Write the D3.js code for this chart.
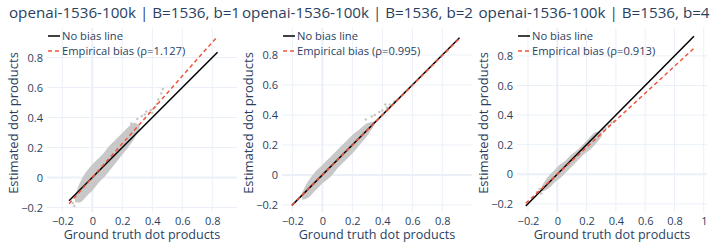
<!DOCTYPE html>
<html>
<head>
<meta charset="utf-8">
<script src="https://cdn.jsdelivr.net/npm/d3@7"></script>
<style>
  body { margin: 0; background: #fff; }
  svg { display: block; font-family: "Open Sans", verdana, arial, sans-serif; }
</style>
</head>
<body>
<svg id="chart" width="714" height="247"></svg>
<script>
  // titles and fitted bias per panel
  var titles = [
    "openai-1536-100k | B=1536, b=1",
    "openai-1536-100k | B=1536, b=2",
    "openai-1536-100k | B=1536, b=4"
  ];
  var rhoValues = [1.127, 0.995, 0.913];

  // tick labels
  var xTicks12 = [-0.2, 0, 0.2, 0.4, 0.6, 0.8];
  var xTicks3 = [-0.2, 0, 0.2, 0.4, 0.6, 0.8, 1];
  var yTicks = [-0.2, 0, 0.2, 0.4, 0.6, 0.8];

  // axis ranges
  var xRange1 = [-0.302, 0.965], yRange1 = [-0.230, 0.997];
  var xRange2 = [-0.269, 0.998], yRange2 = [-0.247, 0.980];
  var xRange3 = [-0.275, 1.022], yRange3 = [-0.255, 0.9885];

  // x extent of the reference lines (min/max ground truth)
  var lineSpan1 = [-0.155, 0.835];
  var lineSpan2 = [-0.203, 0.915];
  var lineSpan3 = [-0.215, 0.933];

  // dense scatter cloud, read as lower / upper envelope
  var cloud1X  = [-0.11, -0.08, -0.04, 0, 0.04, 0.08, 0.12, 0.16, 0.20, 0.24, 0.28, 0.31];
  var cloud1Lo = [-0.16, -0.16, -0.12, -0.08, -0.03, 0.01, 0.06, 0.11, 0.16, 0.21, 0.27, 0.33];
  var cloud1Hi = [-0.13, -0.04, 0.03, 0.08, 0.12, 0.16, 0.21, 0.25, 0.29, 0.33, 0.36, 0.34];
  var cloud2X  = [-0.13, -0.10, -0.05, 0, 0.05, 0.10, 0.15, 0.20, 0.25, 0.30, 0.34];
  var cloud2Lo = [-0.16, -0.15, -0.10, -0.05, -0.01, 0.05, 0.10, 0.15, 0.21, 0.27, 0.33];
  var cloud2Hi = [-0.12, -0.06, 0.01, 0.06, 0.11, 0.16, 0.21, 0.26, 0.30, 0.34, 0.35];
  var cloud3X  = [-0.10, -0.06, -0.02, 0.02, 0.06, 0.10, 0.14, 0.18, 0.22, 0.26, 0.30];
  var cloud3Lo = [-0.11, -0.09, -0.05, -0.02, 0.02, 0.06, 0.10, 0.14, 0.17, 0.21, 0.26];
  var cloud3Hi = [-0.08, -0.02, 0.02, 0.06, 0.09, 0.13, 0.16, 0.20, 0.24, 0.28, 0.28];

  // sparse points outside the dense cloud
  var sparse1X = [0.26, 0.30, 0.33, 0.35, 0.36, 0.38, 0.40, 0.39, 0.42, 0.43, 0.44, 0.46, 0.47, -0.13, -0.12];
  var sparse1Y = [0.36, 0.39, 0.41, 0.42, 0.44, 0.43, 0.43, 0.45, 0.47, 0.49, 0.52, 0.56, 0.59, -0.17, -0.19];
  var sparse2X = [0.29, 0.33, 0.35, 0.38, 0.40, 0.42, 0.43, 0.45, 0.48];
  var sparse2Y = [0.37, 0.39, 0.40, 0.42, 0.43, 0.47, 0.45, 0.47, 0.49];
  var sparse3X = [0.31, 0.33, 0.35, 0.37, 0.39, -0.12, -0.14, -0.11];
  var sparse3Y = [0.30, 0.31, 0.33, 0.35, 0.36, -0.10, -0.12, -0.13];

  var panels = [
    {title: titles[0], rho: rhoValues[0], xr: xRange1, yr: yRange1, xt: xTicks12, span: lineSpan1,
     cx: cloud1X, lo: cloud1Lo, hi: cloud1Hi, sx: sparse1X, sy: sparse1Y},
    {title: titles[1], rho: rhoValues[1], xr: xRange2, yr: yRange2, xt: xTicks12, span: lineSpan2,
     cx: cloud2X, lo: cloud2Lo, hi: cloud2Hi, sx: sparse2X, sy: sparse2Y},
    {title: titles[2], rho: rhoValues[2], xr: xRange3, yr: yRange3, xt: xTicks3, span: lineSpan3,
     cx: cloud3X, lo: cloud3Lo, hi: cloud3Hi, sx: sparse3X, sy: sparse3Y}
  ];

  var textColor = "#2a3f5f", gridColor = "#EBF0F8", redColor = "#EF553B", cloudColor = "#c8c8c8";
  var plotLefts = [47, 282, 517], plotTop = 28, plotW = 190, plotH = 184;
  // subplot titles sit on the centre of the unconstrained column, not the plot box
  var titleCenters = [124.5, 357.5, 594];

  var svg = d3.select("#chart");
  var fmt = function(d){ return d === 0 ? "0" : d3.format("~g")(d); };

  panels.forEach(function(p, i){
    var g = svg.append("g").attr("transform", "translate(" + plotLefts[i] + "," + plotTop + ")");
    var x = d3.scaleLinear().domain(p.xr).range([0, plotW]);
    var y = d3.scaleLinear().domain(p.yr).range([plotH, 0]);

    // grid
    g.append("g").selectAll("line").data(p.xt.filter(function(d){ return d !== 0; }))
      .enter().append("line")
      .attr("x1", function(d){ return x(d); }).attr("x2", function(d){ return x(d); })
      .attr("y1", 0).attr("y2", plotH)
      .attr("stroke", gridColor).attr("stroke-width", 1);
    g.append("g").selectAll("line").data(yTicks.filter(function(d){ return d !== 0; }))
      .enter().append("line")
      .attr("y1", function(d){ return y(d); }).attr("y2", function(d){ return y(d); })
      .attr("x1", 0).attr("x2", plotW)
      .attr("stroke", gridColor).attr("stroke-width", 1);
    // zero lines
    g.append("line").attr("x1", x(0)).attr("x2", x(0)).attr("y1", 0).attr("y2", plotH)
      .attr("stroke", gridColor).attr("stroke-width", 2);
    g.append("line").attr("y1", y(0)).attr("y2", y(0)).attr("x1", 0).attr("x2", plotW)
      .attr("stroke", gridColor).attr("stroke-width", 2);

    // axes (labels only)
    var xa = g.append("g").attr("transform", "translate(0," + plotH + ")")
      .call(d3.axisBottom(x).tickValues(p.xt).tickFormat(fmt).tickSize(0).tickPadding(5.5));
    var ya = g.append("g")
      .call(d3.axisLeft(y).tickValues(yTicks).tickFormat(fmt).tickSize(0).tickPadding(4));
    [xa, ya].forEach(function(a){
      a.select(".domain").remove();
      a.selectAll("text").attr("fill", textColor).style("font-size", "11px")
        .style("font-family", "'Open Sans', verdana, arial, sans-serif");
    });

    // scatter cloud
    var cloud = p.cx.map(function(v, k){ return {x: v, lo: p.lo[k], hi: p.hi[k]}; });
    g.append("path").datum(cloud)
      .attr("fill", cloudColor).attr("stroke", cloudColor).attr("stroke-width", 1.5)
      .attr("d", d3.area().curve(d3.curveCatmullRom)
        .x(function(d){ return x(d.x); })
        .y0(function(d){ return y(d.lo); })
        .y1(function(d){ return y(d.hi); }));
    g.append("g").selectAll("circle").data(p.sx)
      .enter().append("circle")
      .attr("cx", function(d){ return x(d); })
      .attr("cy", function(d, k){ return y(p.sy[k]); })
      .attr("r", 1.3).attr("fill", cloudColor);

    // no-bias and empirical-bias lines
    var line = d3.line().x(function(d){ return x(d[0]); }).y(function(d){ return y(d[1]); });
    g.append("path").datum(p.span.map(function(v){ return [v, v]; }))
      .attr("d", line).attr("fill", "none").attr("stroke", "#000").attr("stroke-width", 1.5);
    g.append("path").datum(p.span.map(function(v){ return [v, v * p.rho]; }))
      .attr("d", line).attr("fill", "none").attr("stroke", redColor)
      .attr("stroke-width", 1.5).attr("stroke-dasharray", "4,3");

    // legend
    var lg = g.append("g").attr("transform", "translate(1,0)");
    var items = [
      {label: "No bias line", color: "#000", dash: null},
      {label: "Empirical bias (\u03c1=" + d3.format(".3f")(p.rho) + ")", color: redColor, dash: "4,3"}
    ];
    items.forEach(function(it, k){
      var yy = 8 + k * 15;
      lg.append("line").attr("x1", 0).attr("x2", 12).attr("y1", yy).attr("y2", yy)
        .attr("stroke", it.color).attr("stroke-width", 1.5)
        .attr("stroke-dasharray", it.dash);
      lg.append("text").attr("x", 14).attr("y", yy).attr("dy", "0.35em")
        .attr("fill", textColor).style("font-size", "11.2px").text(it.label);
    });

    // axis titles
    g.append("text").attr("x", plotW / 2).attr("y", plotH + 26.5)
      .attr("text-anchor", "middle").attr("fill", textColor).style("font-size", "12.6px")
      .text("Ground truth dot products");
    g.append("text").attr("transform", "translate(-34," + (plotH / 2 + 3) + ") rotate(-90)")
      .attr("text-anchor", "middle").attr("dy", "0.35em")
      .attr("fill", textColor).style("font-size", "13px")
      .text("Estimated dot products");

    // subplot title
    svg.append("text").attr("x", titleCenters[i]).attr("y", 18)
      .attr("text-anchor", "middle").attr("fill", textColor).style("font-size", "15.2px")
      .text(p.title);
  });
</script>
</body>
</html>
